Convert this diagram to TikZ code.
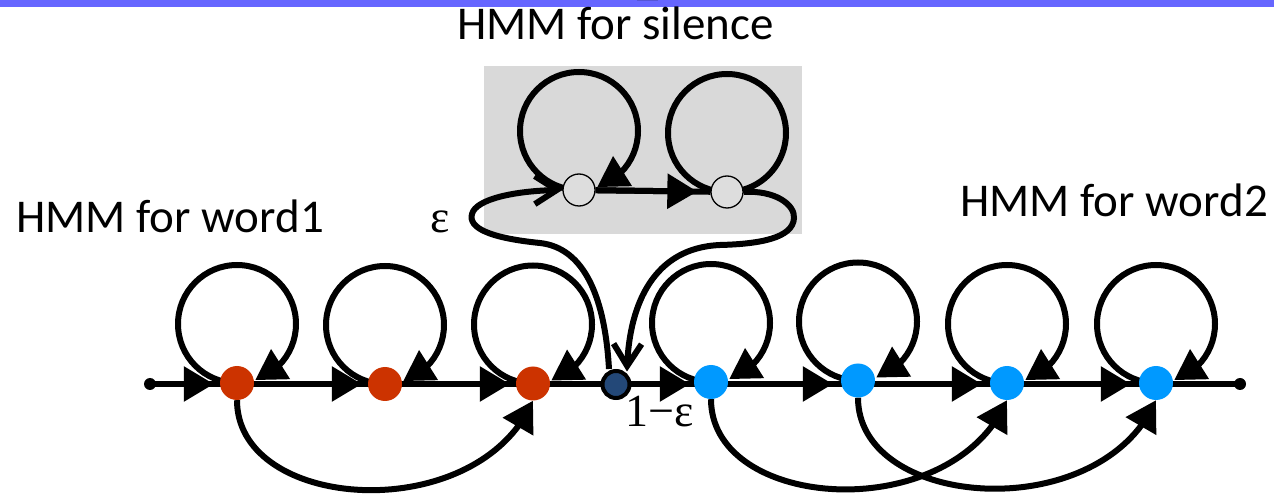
\documentclass[tikz,border=0pt]{standalone}
\usepackage{fontspec}
\setmainfont{Carlito}
\newfontfamily\epsfont{Liberation Serif}
\usetikzlibrary{arrows.meta,bending,calc}
\pgfdeclarelayer{background}
\pgfsetlayers{background,main}
\definecolor{barpurple}{HTML}{6666FF}
\definecolor{blobblue}{HTML}{5555D5}
\definecolor{boxgray}{HTML}{D9D9D9}
\definecolor{silfill}{HTML}{DDDDDD}
\definecolor{wred}{HTML}{CC3300}
\definecolor{wblue}{HTML}{0099FF}
\definecolor{darknode}{HTML}{234878}
\begin{document}
\begin{tikzpicture}[x=1bp,y=-1bp,
  edge/.style={line width=6bp, black},
  tri/.style={edge, -{Triangle[length=30bp,width=34bp]}},
  barb/.style={edge, -{Straight Barb[length=22bp,width=28bp]}},
  redstate/.style={circle, minimum size=34bp, inner sep=0pt, fill=wred},
  bluestate/.style={circle, minimum size=34bp, inner sep=0pt, fill=wblue},
  silstate/.style={circle, minimum size=32bp, inner sep=0pt, fill=silfill, draw=black, line width=1.3bp},
  darkstate/.style={circle, minimum size=27bp, inner sep=0pt, fill=darknode, draw=black, line width=4bp},
  enddot/.style={circle, minimum size=12bp, inner sep=0pt, fill=black},
  lbl/.style={font=\fontsize{47bp}{56bp}\selectfont, anchor=base, inner sep=0pt},
  epslbl/.style={font=\epsfont\fontsize{46bp}{54bp}\selectfont, anchor=base, inner sep=0pt}
]
\useasboundingbox (0,0) rectangle (1274,495);

% nodes
\node[enddot] (ls) at (150,384) {};
\node[enddot] (rs) at (1240,384) {};
\node[redstate] (r1) at (237,383) {};
\node[redstate] (r2) at (385,384) {};
\node[redstate] (r3) at (533,383.5) {};
\node[darkstate] (dk) at (616,384.5) {};
\node[bluestate] (b1) at (711,382) {};
\node[bluestate] (b2) at (858,380.5) {};
\node[bluestate] (b3) at (1007,383) {};
\node[bluestate] (b4) at (1156,383) {};
\node[silstate] (s1) at (579,190) {};
\node[silstate] (s2) at (727,192) {};

% labels
\node[lbl] (tsil) at (615.5,40) {HMM for silence};
\node[lbl] (tw1) at (170,233) {HMM for word1};
\node[lbl] (tw2) at (1114,217) {HMM for word2};
\node[epslbl] (eps) at (440.5,233) {ε};
\node[epslbl] (oneeps) at (660,426) {1−ε};

\begin{pgfonlayer}{background}
% top bar
\fill[barpurple] (0,0) rectangle (1274,7);
\fill[blobblue] (637,0) rectangle (658,1.5);
% silence box
\fill[boxgray] (484,66) rectangle (802,234);

% main line
\draw[edge] (ls.center) -- (rs.center);
\draw[tri] (ls.east) -- ($(r1.west |- ls)+(-6,0)$);
\draw[tri] (r1.east |- ls) -- ($(r2.west |- ls)+(-6,0)$);
\draw[tri] (r2.east |- ls) -- ($(r3.west |- ls)+(-6,0)$);
\draw[tri] (dk.east |- ls) -- ($(b1.west |- ls)+(-4,0)$);
\draw[tri] (b1.east |- ls) -- ($(b2.west |- ls)+(-8,0)$);
\draw[tri] (b2.east |- ls) -- ($(b3.west |- ls)+(-8,0)$);
\draw[tri] (b3.east |- ls) -- ($(b4.west |- ls)+(-8,0)$);

% self loops
\foreach \n in {r1,r2,r3,b1,b2,b3,b4,s1}{
  \draw[tri] (\n.center) arc[start angle=90, end angle=432, radius=59];
}
\draw[edge] (s2.center) arc[start angle=90, end angle=440, radius=59];

% silence transition
\draw[edge] (s1) -- (s2);
\draw[tri, shorten >=13bp] (s1) -- (s2);

% skip transitions
\draw[tri] (r1.south) .. controls +(0,112) and +(-55,127) .. (r3.south);
\draw[tri] (b1.south) .. controls +(0,112) and +(-55,127) .. (b3.south);
\draw[tri] (b2.south) .. controls +(0,112) and +(-55,127) .. (b4.south);

% epsilon: junction -> silence
\draw[barb] ($(dk.north)+(-7,0)$) .. controls +(-4,-70) and (585,248) .. (540,243)
  .. controls (490,238) and (468,228) .. (472,214)
  .. controls (476,198) and (520,190) .. (s1.west);

% silence -> junction
\draw[barb] (s2.east) .. controls +(32,-2) and (795,205) .. (794,218)
  .. controls (793,238) and (760,244) .. (720,245)
  .. controls (650,248) and (628,310) .. ($(dk.center)+(11,-13)$);
\end{pgfonlayer}
\end{tikzpicture}
\end{document}
